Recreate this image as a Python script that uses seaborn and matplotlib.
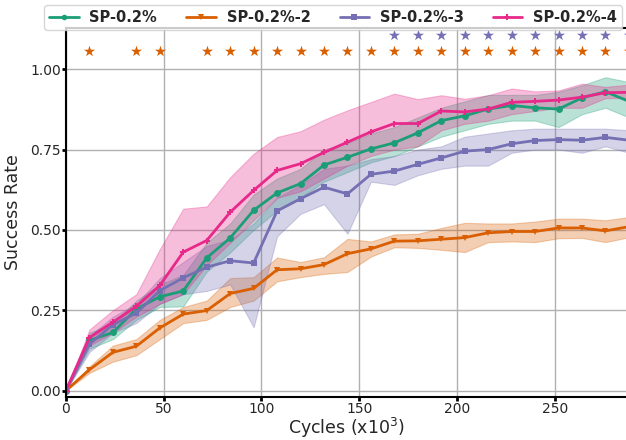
import matplotlib
matplotlib.use("Agg")
import matplotlib.pyplot as plt
import pandas as pd
import seaborn as sns

cycles = [0, 12, 24, 36, 48, 60, 72, 84, 96, 108, 120, 132, 144,
          156, 168, 180, 192, 204, 216, 228, 240, 252, 264, 276, 288]

sp_mean = [0, .156, .181, .254, .292, .31, .413, .475, .561, .615, .644, .702, .726,
           .752, .771, .802, .840, .855, .876, .887, .880, .876, .911, .930, .90]
sp_low = [0, .13, .16, .22, .26, .262, .37, .43, .50, .56, .60, .65, .68,
          .71, .73, .76, .79, .81, .83, .84, .84, .82, .86, .88, .85]
sp_high = [0, .18, .21, .28, .33, .36, .46, .52, .61, .66, .69, .75, .77,
           .80, .82, .85, .88, .90, .92, .92, .92, .93, .95, .975, .96]

sp2_mean = [0, .065, .119, .138, .195, .238, .249, .302, .318, .376, .379, .392, .426,
            .441, .465, .466, .471, .476, .491, .495, .495, .506, .506, .497, .51]
sp2_low = [0, .055, .09, .11, .16, .21, .22, .26, .28, .34, .353, .363, .369,
           .417, .446, .444, .438, .431, .462, .464, .462, .474, .475, .462, .477]
sp2_high = [0, .075, .14, .16, .22, .26, .28, .35, .353, .414, .40, .415, .472,
            .464, .486, .488, .506, .522, .52, .52, .526, .535, .535, .53, .54]

sp3_mean = [0, .145, .205, .241, .311, .351, .384, .404, .397, .559, .597, .633, .612,
            .673, .683, .704, .724, .745, .75, .768, .778, .781, .779, .788, .779]
sp3_low = [0, .12, .18, .21, .27, .30, .31, .33, .197, .48, .55, .58, .488,
           .65, .64, .67, .69, .70, .70, .74, .75, .75, .74, .76, .74]
sp3_high = [0, .17, .23, .27, .35, .40, .45, .47, .52, .60, .64, .69, .70,
            .72, .73, .75, .76, .79, .80, .81, .815, .815, .815, .815, .81]

sp4_mean = [0, .165, .213, .262, .327, .431, .467, .555, .623, .685, .706, .741, .773,
            .805, .831, .831, .870, .867, .876, .897, .900, .904, .913, .927, .928]
sp4_low = [0, .14, .18, .23, .27, .30, .39, .46, .53, .60, .62, .66, .70,
           .73, .75, .76, .81, .83, .84, .86, .87, .88, .88, .91, .91]
sp4_high = [0, .19, .25, .30, .44, .566, .573, .664, .737, .789, .807, .843, .872,
            .898, .924, .907, .919, .908, .919, .94, .931, .934, .955, .945, .952]

# significance stars
stars_sp2 = [12, 36, 48, 72, 84, 96, 108, 120, 132, 144, 156, 168, 180,
             192, 204, 216, 228, 240, 252, 264, 276, 288]
stars_sp3 = [168, 180, 192, 204, 216, 228, 240, 252, 264, 276, 288]

series = [
    ("SP-0.2%", sp_mean, sp_low, sp_high, "#1b9e77", "o"),
    ("SP-0.2%-2", sp2_mean, sp2_low, sp2_high, "#d95f02", "v"),
    ("SP-0.2%-3", sp3_mean, sp3_low, sp3_high, "#7570b3", "s"),
    ("SP-0.2%-4", sp4_mean, sp4_low, sp4_high, "#e7298a", "P"),
]

sns.set_style("whitegrid")
fig = plt.figure(figsize=(6.26, 4.4), dpi=100)
ax = fig.add_axes([0.1054, 0.0977, 0.8946, 0.8385])

for name, mean, low, high, color, marker in series:
    ax.fill_between(cycles, low, high, color=color, alpha=0.3, linewidth=0.8)
    df = pd.DataFrame({"cycles": cycles, "rate": mean})
    sns.lineplot(data=df, x="cycles", y="rate", ax=ax, color=color, marker=marker,
                 markersize=5, markeredgewidth=0, linewidth=2, label=name)

sns.scatterplot(x=stars_sp2, y=[1.056] * len(stars_sp2), ax=ax, marker="*",
                color="#d95f02", s=70, linewidth=0, legend=False, clip_on=False)
sns.scatterplot(x=stars_sp3, y=[1.106] * len(stars_sp3), ax=ax, marker="*",
                color="#7570b3", s=70, linewidth=0, legend=False, clip_on=False)

ax.set_xlim(0, 286.5)
ax.set_ylim(-0.02, 1.128)
ax.set_xticks([0, 50, 100, 150, 200, 250])
ax.set_yticks([0, 0.25, 0.5, 0.75, 1.0])
ax.set_yticklabels(["0.00", "0.25", "0.50", "0.75", "1.00"])
ax.tick_params(labelsize=10, length=3, width=2, color="black", pad=0.5,
               left=True, bottom=True)
ax.grid(True, color="#b0b0b0", linewidth=1)
for side in ["left", "bottom", "top"]:
    ax.spines[side].set_color("black")
    ax.spines[side].set_linewidth(1.5)
ax.spines["right"].set_visible(False)

ax.set_xlabel("Cycles (x10$^3$)", fontsize=12.5, labelpad=0)
ax.set_ylabel("Success Rate", fontsize=12.5, labelpad=6)

handles, labels = ax.get_legend_handles_labels()
ax.legend_.remove()
fig.legend(handles, labels, loc="upper center", bbox_to_anchor=(0.532, 1.005),
           ncol=4, prop={"weight": "bold", "size": 10.5}, frameon=True,
           handlelength=2.0, handletextpad=0.75, columnspacing=2.0,
           borderpad=0.35, markerscale=0.8)

fig.savefig("out.png", dpi=100)
